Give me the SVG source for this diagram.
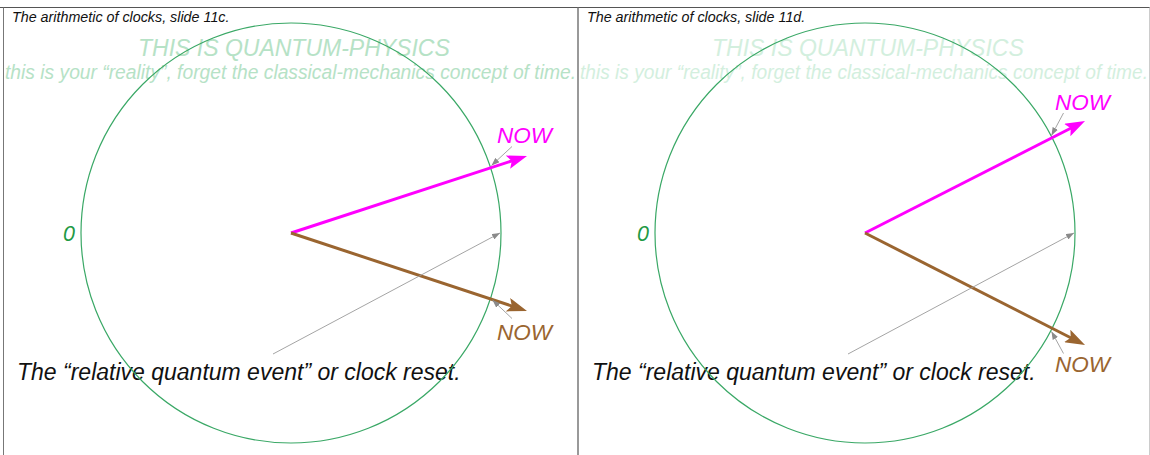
<svg xmlns="http://www.w3.org/2000/svg" width="1150" height="455" viewBox="0 0 1150 455">
<style>
text{font-family:"Liberation Sans",Arial,sans-serif;font-style:italic}
.title{font-size:14.3px;fill:#111}
.wm1{font-size:23px}
.wm2{font-size:19.3px}
.wmL{fill:#b6e2c6}
.wmR{fill:#d3efde}
.caption{font-size:23px;fill:#111}
.zero{font-size:21.5px;fill:#1f9a45}
.nowM{font-size:22.5px;fill:#ff00ff}
.nowB{font-size:22.5px;fill:#9a6530}
.dial{fill:none;stroke:#3aa866;stroke-width:1.2}
.frame{stroke:#777;stroke-width:1;fill:none}
.handM{stroke:#ff00ff;stroke-width:3;fill:none}
.handB{stroke:#9a6530;stroke-width:3;fill:none}
.ptr{stroke:#9a9a9a;stroke-width:0.9;fill:none}
</style>
<defs>
<marker id="hM" viewBox="0 0 20 14" refX="10" refY="7" markerWidth="20" markerHeight="14" markerUnits="userSpaceOnUse" orient="auto">
<path d="M0,0 L20,7 L0,14 L4,7 z" fill="#ff00ff"/>
</marker>
<marker id="hB" viewBox="0 0 20 14" refX="10" refY="7" markerWidth="20" markerHeight="14" markerUnits="userSpaceOnUse" orient="auto">
<path d="M0,0 L20,7 L0,14 L4,7 z" fill="#9a6530"/>
</marker>
<marker id="hG" viewBox="0 0 8 6" refX="8" refY="3" markerWidth="8" markerHeight="6" markerUnits="userSpaceOnUse" orient="auto">
<path d="M0,0 L8,3 L0,6 z" fill="#8a8a8a"/>
</marker>
</defs>
<rect x="0" y="0" width="1150" height="455" fill="#fff"/>
<g id="frames">
<line class="frame" x1="0" y1="7.5" x2="1150" y2="7.5" style="stroke:#555"/>
<line class="frame" x1="3.5" y1="7.5" x2="3.5" y2="455"/>
<line class="frame" x1="578" y1="7.5" x2="578" y2="455" style="stroke-width:1.5"/>
<line class="frame" x1="1149.5" y1="7.5" x2="1149.5" y2="455" style="stroke:#ccc"/>
</g>
<g id="panel-11c">
<text class="title" x="12" y="21.5">The arithmetic of clocks, slide 11c.</text>
<g id="watermark-11c">
<text class="wm1 wmL" x="138" y="56">THIS IS QUANTUM-PHYSICS</text>
<text class="wm2 wmL" x="5" y="79" textLength="571" lengthAdjust="spacingAndGlyphs">this is your “reality”, forget the classical-mechanics concept of time.</text>
</g>
<text id="caption-11c" class="caption" x="17" y="380">The “relative quantum event” or clock reset.</text>
<circle id="dial-11c" class="dial" cx="291" cy="233" r="210"/>
<text id="zero-11c" class="zero" x="63" y="241">0</text>
<text id="now-m-11c" class="nowM" x="497" y="143">NOW</text>
<text id="now-b-11c" class="nowB" x="497" y="339.5">NOW</text>
</g>
<g id="panel-11d">
<text class="title" x="587" y="21.5">The arithmetic of clocks, slide 11d.</text>
<g id="watermark-11d">
<text class="wm1 wmR" x="712" y="56">THIS IS QUANTUM-PHYSICS</text>
<text class="wm2 wmR" x="580" y="79" textLength="568" lengthAdjust="spacingAndGlyphs">this is your “reality”, forget the classical-mechanics concept of time.</text>
</g>
<text id="caption-11d" class="caption" x="592" y="380">The “relative quantum event” or clock reset.</text>
<circle id="dial-11d" class="dial" cx="865" cy="233" r="210"/>
<text id="zero-11d" class="zero" x="637" y="241">0</text>
<text id="now-m-11d" class="nowM" x="1055" y="110">NOW</text>
<text id="now-b-11d" class="nowB" x="1055" y="372">NOW</text>
</g>
<g id="connectors">
<line class="handM" x1="291" y1="233" x2="517.5" y2="159.1" marker-end="url(#hM)"/>
<line class="handB" x1="291" y1="233" x2="517.5" y2="307.9" marker-end="url(#hB)"/>
<line class="ptr" x1="273" y1="354" x2="500" y2="233" marker-end="url(#hG)"/>
<line class="ptr" x1="512" y1="146.5" x2="491.5" y2="165.5" marker-end="url(#hG)"/>
<line class="ptr" x1="512" y1="318.5" x2="492.5" y2="300" marker-end="url(#hG)"/>
<line class="handM" x1="865" y1="233" x2="1076.1" y2="125.5" marker-end="url(#hM)"/>
<line class="handB" x1="865" y1="233" x2="1076.1" y2="340.5" marker-end="url(#hB)"/>
<line class="ptr" x1="848" y1="354" x2="1074" y2="233" marker-end="url(#hG)"/>
<line class="ptr" x1="1063.5" y1="113" x2="1051.5" y2="135.5" marker-end="url(#hG)"/>
<line class="ptr" x1="1063.5" y1="353.5" x2="1051.5" y2="331.5" marker-end="url(#hG)"/>
</g>
</svg>
